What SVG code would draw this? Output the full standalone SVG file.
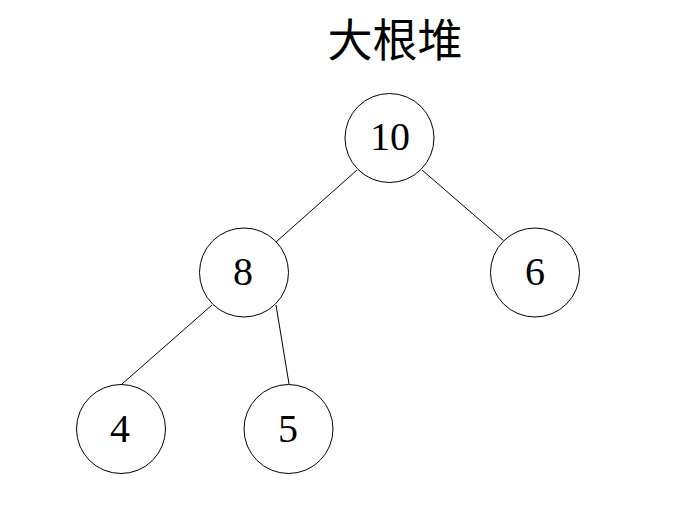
<svg xmlns="http://www.w3.org/2000/svg" width="693" height="520" viewBox="0 0 693 520">
<style>
.n circle{fill:#fff;stroke:#000;stroke-width:1}
.n text{font-family:"Liberation Serif","DejaVu Serif",serif;font-size:40px;fill:#000;text-anchor:middle}
.e line{stroke:#000;stroke-width:1}
.t{font-family:"Liberation Serif","Noto Sans CJK SC",serif;font-size:45px;fill:#000;text-anchor:middle}
</style>
<rect width="693" height="520" fill="#fff"/>
<text class="t" x="395" y="57">大根堆</text>
<g id="edges" class="e">
<line x1="357" y1="170" x2="276" y2="242"/>
<line x1="422" y1="170" x2="503.5" y2="240.5"/>
<line x1="212" y1="305" x2="122" y2="384"/>
<line x1="276" y1="305" x2="289" y2="384"/>
</g>
<g id="n10" class="n"><circle cx="389.5" cy="138" r="44.5"/><text x="390" y="150">10</text></g>
<g id="n8" class="n"><circle cx="244" cy="272.5" r="44.5"/><text x="243" y="285">8</text></g>
<g id="n6" class="n"><circle cx="535" cy="272.5" r="44.5"/><text x="535" y="285">6</text></g>
<g id="n4" class="n"><circle cx="121" cy="429" r="44.5"/><text x="120" y="442">4</text></g>
<g id="n5" class="n"><circle cx="288.5" cy="429" r="44.5"/><text x="288" y="442">5</text></g>
</svg>
